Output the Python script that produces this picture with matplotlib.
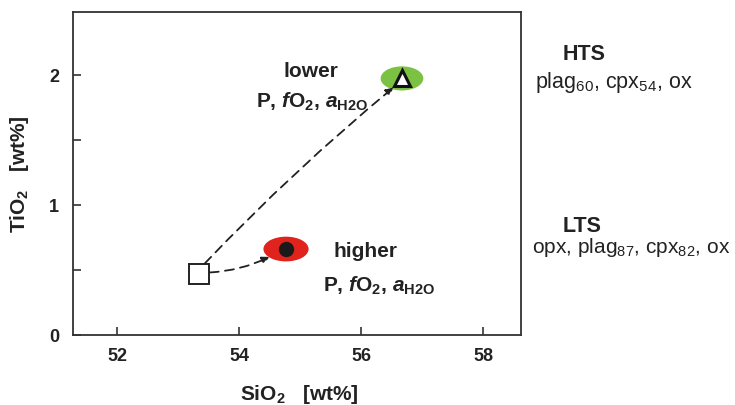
import matplotlib
matplotlib.use("Agg")
import matplotlib.pyplot as plt
from matplotlib.patches import Ellipse

plt.rcParams['font.family'] = ['Liberation Sans', 'DejaVu Sans']
plt.rcParams['mathtext.fontset'] = 'custom'
plt.rcParams['mathtext.rm'] = 'Liberation Sans'
plt.rcParams['mathtext.bf'] = 'Liberation Sans:bold'
plt.rcParams['mathtext.it'] = 'Liberation Sans:italic:bold'

# data
sio2 = [53.35, 54.77, 56.67]   # start, LTS (higher), HTS (lower)
tio2 = [0.47, 0.66, 1.97]
xticks = [52, 54, 56, 58]
yticks = [0, 1, 2]
yminor = [0.5, 1.5]

W, H = 735, 406
fig = plt.figure(figsize=(W / 100, H / 100), dpi=100)
ax = fig.add_axes([73 / W, 1 - 336 / H, 448 / W, 323 / H])
ax.set_xlim(51.28, 58.62)
ax.set_ylim(0, 2.48)

INK = '#222222'
for s in ax.spines.values():
    s.set_linewidth(1.3)
    s.set_color('#333333')

ax.set_xticks(xticks)
ax.set_yticks(yticks)
ax.set_yticks(yminor, minor=True)
ax.tick_params(which='both', direction='in', width=1.2, color='#333333', length=6)
ax.tick_params(axis='x', pad=9)
ax.tick_params(axis='y', pad=10)
for lab in ax.get_xticklabels() + ax.get_yticklabels():
    lab.set_fontweight('bold')
    lab.set_fontsize(13)
    lab.set_color(INK)

ax.set_xlabel(r'SiO$_\mathbf{2}$   [wt%]', fontsize=15, fontweight='bold', color=INK)
ax.xaxis.set_label_coords(0.505, -0.145)
ax.set_ylabel(r'TiO$_\mathbf{2}$   [wt%]', fontsize=15, fontweight='bold', color=INK)
ax.yaxis.set_label_coords(-0.093, 0.5)

# ellipses
ax.add_patch(Ellipse((sio2[2], tio2[2]), 0.70, 0.185, facecolor='#7cc242', edgecolor='none', zorder=2))
ax.add_patch(Ellipse((sio2[1], tio2[1]), 0.74, 0.19, facecolor='#e0231c', edgecolor='none', zorder=2))

# markers
ax.plot(sio2[0], tio2[0], marker='s', markersize=14, markerfacecolor='white',
        markeredgecolor=INK, markeredgewidth=1.4, zorder=4)
ax.plot(sio2[1], tio2[1], marker='o', markersize=10, markerfacecolor='#1a1a1a',
        markeredgecolor='#1a1a1a', zorder=4)
ax.plot(sio2[2], tio2[2], marker='^', markersize=11, markerfacecolor='white',
        markeredgecolor='#111111', markeredgewidth=2.2, zorder=4)

# arrows
ax.annotate('', xy=(sio2[2] - 0.14, tio2[2] - 0.07), xytext=(sio2[0] + 0.09, tio2[0] + 0.08),
            arrowprops=dict(arrowstyle='-|>', linestyle=(0, (5, 3.5)), color=INK, lw=1.3,
                            mutation_scale=11, shrinkA=0, shrinkB=0,
                            connectionstyle='arc3,rad=-0.03'), zorder=3)
ax.annotate('', xy=(sio2[1] - 0.27, tio2[1] - 0.06), xytext=(sio2[0] + 0.17, tio2[0] + 0.01),
            arrowprops=dict(arrowstyle='-|>', linestyle=(0, (5, 3.5)), color=INK, lw=1.3,
                            mutation_scale=11, shrinkA=0, shrinkB=0,
                            connectionstyle='arc3,rad=0.1'), zorder=3)

# annotation texts
cond = r'P, $\mathit{f}$O$_\mathbf{2}$, $\mathit{a}_\mathbf{H2O}$'
ax.text(55.18, 1.992, 'lower', fontsize=15, fontweight='bold', ha='center', va='baseline', color=INK)
ax.text(55.2, 1.754, cond, fontsize=15, fontweight='bold', ha='center', va='baseline', color=INK)
ax.text(56.07, 0.608, 'higher', fontsize=15, fontweight='bold', ha='center', va='baseline', color=INK)
ax.text(56.30, 0.338, cond, fontsize=15, fontweight='bold', ha='center', va='baseline', color=INK)

# right-side labels (pixel positions in figure)
def ftext(x, y, s, size=15.5, **kw):
    fig.text(x / W, 1 - y / H, s, fontsize=size, ha='left', va='baseline', color=INK, **kw)

ftext(563, 60, 'HTS', fontweight='bold')
ftext(535, 88, r'plag$_{60}$, cpx$_{54}$, ox')
ftext(563, 232, 'LTS', fontweight='bold')
ftext(532, 253, r'opx, plag$_{87}$, cpx$_{82}$, ox', size=15)

fig.savefig('out.png', dpi=100)
